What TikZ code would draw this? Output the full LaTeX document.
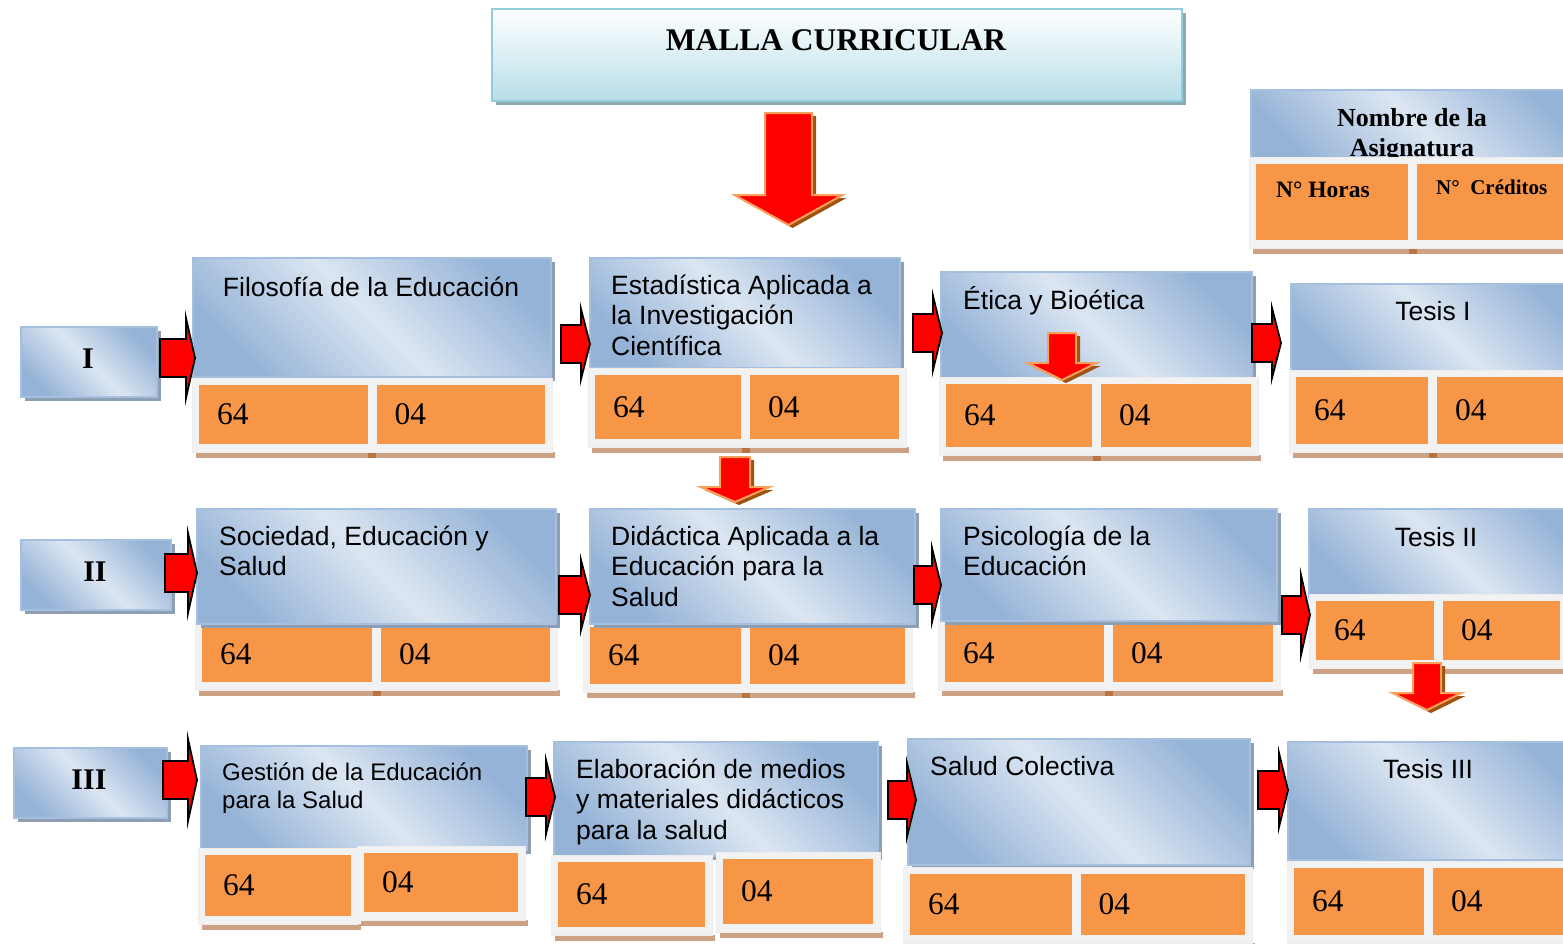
\documentclass[tikz,border=0pt]{standalone}
\usepackage{fontspec}
\setmainfont{Liberation Serif}
\setsansfont{Liberation Sans}
\definecolor{bdark}{HTML}{95B3D7}
\definecolor{blight}{HTML}{DCE6F2}
\definecolor{bedge}{HTML}{A5BFDE}
\definecolor{bshadowc}{HTML}{8E9FB4}
\definecolor{titleedge}{HTML}{93CDDD}
\definecolor{titlebot}{HTML}{B7DEE8}
\definecolor{titleshadowc}{HTML}{8EA9B1}
\definecolor{orangec}{HTML}{F79646}
\definecolor{framec}{HTML}{F2F2F2}
\definecolor{oshadowc}{HTML}{CDA183}
\definecolor{oshadowdarkc}{HTML}{B87442}
\definecolor{arrowedge}{HTML}{F9A15A}
\definecolor{arrowshadowc}{HTML}{A0520F}
\tikzset{
  bluebox/.style={draw=bedge, line width=1.2pt, top color=bdark, bottom color=bdark, middle color=blight, shading angle=-45, inner sep=0pt, outer sep=0pt},
  titlebox/.style={draw=titleedge, line width=2pt, top color=white, bottom color=titlebot, inner sep=0pt, outer sep=0pt},
  bshadow/.style={fill=bshadowc},
  frame/.style={fill=framec, draw=black!7, line width=0.6pt, inner sep=0pt, outer sep=0pt},
  cell/.style={fill=orangec, inner sep=0pt, outer sep=0pt},
  oshadow/.style={fill=oshadowc},
  oshadowdark/.style={fill=oshadowdarkc},
  num/.style={font=\fontsize{31.5}{36}\selectfont, inner sep=0pt},
  ttl/.style={font=\sffamily\fontsize{26.5}{30.5}\selectfont, inner sep=0pt},
  ttlsmall/.style={font=\sffamily\fontsize{24}{28}\selectfont, inner sep=0pt},
  roman/.style={font=\bfseries\fontsize{30}{36}\selectfont, inner sep=0pt},
  redarrow/.style={fill=red, draw=black, line width=1.8pt},
  downarrow/.style={fill=red, draw=arrowedge, line width=2pt},
  downshadow/.style={fill=arrowshadowc},
}
% blue box: name x1 y1 x2 y2
\newcommand\bbox[5]{%
  \fill[bshadow] ({#2+4},{#3+4}) rectangle ({#4+4},{#5+4});
  \node[bluebox, anchor=north west, minimum width={#4-#2}, minimum height={#5-#3}] (#1) at (#2,#3) {};
}
% orange frame, two cells: name x1 y1 x2 y2 mid
\newcommand\oframebase[6]{%
  \fill[oshadow] ({#2+4},{#5}) rectangle ({#4+3},{#5+6});
  \fill[oshadowdark] ({#6-4},{#5}) rectangle ({#6+4},{#5+6});
  \node[frame, anchor=north west, minimum width={#4-#2}, minimum height={#5-#3}] (#1) at (#2,#3) {};
  \node[cell, anchor=north west, minimum width={#6-4.5-#2-7}, minimum height={#5-8-#3-7}] (#1a) at ({#2+7},{#3+7}) {};
  \node[cell, anchor=north west, minimum width={#4-7-#6-4.5}, minimum height={#5-8-#3-7}] (#1b) at ({#6+4.5},{#3+7}) {};
}
\newcommand\oframe[8]{%
  \oframebase{#1}{#2}{#3}{#4}{#5}{#6}
  \node[num, anchor=west] (#1na) at ([xshift=18pt]#1a.west) {#7};
  \node[num, anchor=west] (#1nb) at ([xshift=18pt]#1b.west) {#8};
}
% orange frame, one cell: name x1 y1 x2 y2 number
\newcommand\oframeone[6]{%
  \fill[oshadow] ({#2+4},{#5}) rectangle ({#4+3},{#5+6});
  \node[frame, anchor=north west, minimum width={#4-#2}, minimum height={#5-#3}] (#1) at (#2,#3) {};
  \node[cell, anchor=north west, minimum width={#4-#2-14}, minimum height={#5-#3-15}] (#1a) at ({#2+7},{#3+7}) {};
  \node[num, anchor=west] (#1n) at ([xshift=18pt]#1a.west) {#6};
}
% right block arrow: name x0 tip cy headhalf
\newcommand\rarr[5]{%
  \draw[redarrow] (#2,{#4-19}) -- ({#3-9},{#4-19}) -- ({#3-9},{#4-#5}) -- (#3,#4) -- ({#3-9},{#4+#5}) -- ({#3-9},{#4+19}) -- (#2,{#4+19}) -- cycle;
  \coordinate (#1) at (#3,#4);
}
% down block arrow: name cx ytop ybase ytip shafthalf headhalf
\newcommand\darr[7]{%
  \fill[downshadow, xshift=4pt, yshift=-3pt] ({#2-#6},#3) -- ({#2+#6},#3) -- ({#2+#6},#4) -- ({#2+#7},#4) -- (#2,#5) -- ({#2-#7},#4) -- ({#2-#6},#4) -- cycle;
  \draw[downarrow] ({#2-#6},#3) -- ({#2+#6},#3) -- ({#2+#6},#4) -- ({#2+#7},#4) -- (#2,#5) -- ({#2-#7},#4) -- ({#2-#6},#4) -- cycle;
  \coordinate (#1) at (#2,#5);
}
\begin{document}
\begin{tikzpicture}[x=1pt,y=-1pt]
\useasboundingbox (0,0) rectangle (1563,943);
\clip (0,0) rectangle (1563,943);
\fill[white] (0,0) rectangle (1563,943);

% title
\fill[titleshadowc] (496,13) rectangle (1186,105);
\node[titlebox, anchor=north west, minimum width=690, minimum height=92] (title) at (492,9) {};
\node[font=\bfseries\fontsize{31.5}{36}\selectfont, inner sep=0pt] (ttitle) at (836,40) {MALLA CURRICULAR};

% legend
\bbox{leg}{1251}{90}{1590}{165}
\node[font=\bfseries\fontsize{26}{30}\selectfont, inner sep=0pt, anchor=base] (tleg) at (1412,126.5) {\parbox[t]{220pt}{\centering Nombre de la\\Asignatura}};
\oframebase{oleg}{1249}{157}{1576}{248}{1412.5}
\node[font=\bfseries\fontsize{23.5}{28}\selectfont, inner sep=0pt, anchor=base west] (lh) at (1276,197) {N° Horas};
\node[font=\bfseries\fontsize{21}{26}\selectfont, inner sep=0pt, anchor=base west] (lc) at (1436,194) {N°\ \ Créditos};

% row I
\bbox{r1}{21}{327}{157}{397}
\node[roman] (tr1) at (88,359) {I};

\bbox{fil}{193}{258}{551}{377}
\node[ttl, anchor=base] (tfil) at (371,296) {Filosofía de la Educación};
\oframe{ofil}{192}{378}{552}{452}{372}{64}{04}

\bbox{est}{590}{258}{900}{368}
\node[ttl, anchor=base west] (test) at (611,294) {\parbox[t]{300pt}{Estadística Aplicada a\\la Investigación\\Científica}};
\oframe{oest}{588}{368}{906}{447}{745.5}{64}{04}

\bbox{eti}{941}{272}{1252}{382}
\node[ttl, anchor=base west] (teti) at (963,309) {Ética y Bioética};
\oframe{oeti}{939}{377}{1258}{455}{1096.5}{64}{04}

\bbox{tes1}{1291}{284}{1590}{372}
\node[ttl, anchor=base] (ttes1) at (1433,320) {Tesis I};
\oframe{otes1}{1289}{370}{1576}{452}{1432.5}{64}{04}

% row II
\bbox{r2}{21}{540}{171}{610}
\node[roman] (tr2) at (95,572) {II};

\oframe{osoc}{195}{620}{557}{690}{376.5}{64}{04}
\bbox{soc}{197}{509}{556}{624}
\node[ttl, anchor=base west] (tsoc) at (219,545) {\parbox[t]{330pt}{Sociedad, Educación y\\Salud}};

\oframe{odid}{583}{620}{912}{692}{745.5}{64}{04}
\bbox{did}{590}{509}{915}{624}
\node[ttl, anchor=base west] (tdid) at (611,545) {\parbox[t]{300pt}{Didáctica Aplicada a la\\Educación para la\\Salud}};

\oframe{opsi}{938}{618}{1280}{690}{1108.5}{64}{04}
\bbox{psi}{941}{509}{1277}{621}
\node[ttl, anchor=base west] (tpsi) at (963,545) {\parbox[t]{300pt}{Psicología de la\\Educación}};

\bbox{tes2}{1309}{509}{1590}{598}
\node[ttl, anchor=base] (ttes2) at (1436,546) {Tesis II};
\oframe{otes2}{1309}{594}{1567}{668}{1438.5}{64}{04}

% row III
\bbox{r3}{14}{748}{167}{818}
\node[roman] (tr3) at (89,780) {III};

\bbox{ges}{201}{746}{527}{850}
\node[ttlsmall, anchor=base west] (tges) at (222,780) {\parbox[t]{300pt}{Gestión de la Educación\\para la Salud}};
\oframeone{oges1}{198}{848}{358}{924}{64}
\oframeone{oges2}{357}{846}{525}{920}{04}

\bbox{ela}{554}{742}{878}{856}
\node[ttl, anchor=base west] (tela) at (576,778) {\parbox[t]{300pt}{Elaboración de medios\\y materiales didácticos\\para la salud}};
\oframeone{oela1}{551}{855}{712}{935}{64}
\oframeone{oela2}{716}{852}{880}{932}{04}

\bbox{sal}{908}{739}{1250}{865}
\node[ttl, anchor=base west] (tsal) at (930,775) {Salud Colectiva};
\oframe{osal}{903}{867}{1252}{943}{1076}{64}{04}

\bbox{tes3}{1288}{742}{1590}{860}
\node[ttl, anchor=base] (ttes3) at (1428,778) {Tesis III};
\oframe{otes3}{1287}{861}{1570}{943}{1428.5}{64}{04}

% down arrows
\darr{dbig}{788.5}{113}{195}{225}{23.5}{54}
\darr{deti}{1062}{333}{363}{380}{14}{34.5}
\darr{dmid}{735}{457}{487}{502}{15}{34.5}
\darr{dtes2}{1427}{663}{693}{710}{14}{34.5}

% right arrows
\rarr{a1}{160}{195}{358}{40}
\rarr{a2}{561}{590}{344}{35}
\rarr{a3}{913}{942}{333}{37}
\rarr{a4}{1252}{1281}{343}{35}
\rarr{a5}{165}{197}{573}{40}
\rarr{a6}{559}{590}{595}{35}
\rarr{a7}{914}{941}{585}{37}
\rarr{a8}{1282}{1310}{615}{40}
\rarr{a9}{163}{197}{780}{41}
\rarr{a10}{526}{555}{797}{37}
\rarr{a11}{888}{916}{800}{37}
\rarr{a12}{1258}{1288}{790}{37}
\end{tikzpicture}
\end{document}
